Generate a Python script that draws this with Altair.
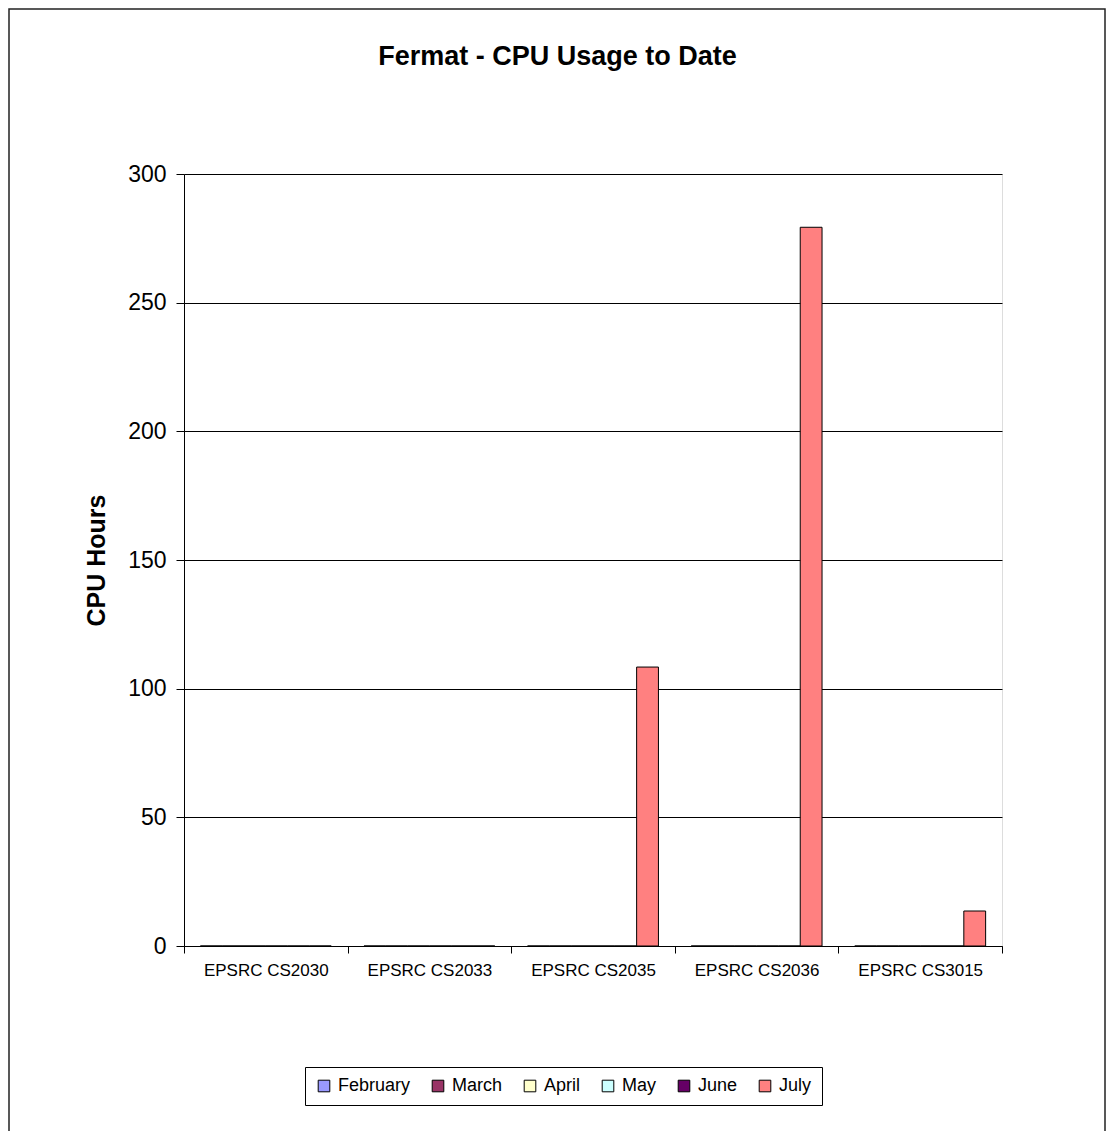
import altair as alt
import pandas as pd

categories = ["EPSRC CS2030", "EPSRC CS2033", "EPSRC CS2035", "EPSRC CS2036", "EPSRC CS3015"]
months = ["February", "March", "April", "May", "June", "July"]
month_colors = ["#9999FF", "#993366", "#FFFFCC", "#CCFFFF", "#660066", "#FF8080"]
values = {
    "February": [0, 0, 0, 0, 0],
    "March": [0, 0, 0, 0, 0],
    "April": [0, 0, 0, 0, 0],
    "May": [0, 0, 0, 0, 0],
    "June": [0, 0, 0, 0, 0],
    "July": [0, 0, 108.4, 279.3, 13.6],
}
y_ticks = [0, 50, 100, 150, 200, 250, 300]
chart_title = "Fermat - CPU Usage to Date"

rows = []
for m in months:
    for c, v in zip(categories, values[m]):
        rows.append({"project": c, "month": m, "hours": v})
df = pd.DataFrame(rows)

W, H = 818, 772
FONT = "Liberation Sans"

bars = alt.Chart(df).mark_bar(stroke="black", strokeWidth=1).encode(
    x=alt.X("project:N", sort=categories,
            scale=alt.Scale(paddingInner=0, paddingOuter=0),
            axis=alt.Axis(title=None, labelAngle=0, labelFontSize=17, labelFont=FONT,
                          labelColor="black", tickBand="extent", tickSize=7,
                          tickColor="black", domainColor="black", labelPadding=9,
                          grid=False)),
    xOffset=alt.XOffset("month:N", sort=months,
                        scale=alt.Scale(paddingInner=0, paddingOuter=0.75)),
    y=alt.Y("hours:Q", scale=alt.Scale(domain=[0, 300], nice=False),
            axis=alt.Axis(title="CPU Hours", values=y_ticks, labelFontSize=23,
                          labelFont=FONT, labelColor="black", tickSize=8,
                          tickColor="black", domainColor="black", labelPadding=10,
                          gridColor="black", gridOpacity=1, titleFont=FONT,
                          titleFontSize=25, titleFontWeight="bold", titleColor="black",
                          titleX=-80, titleY=386, titleAngle=-90,
                          titleBaseline="alphabetic", titleAlign="center")),
    color=alt.Color("month:N", sort=months,
                    scale=alt.Scale(domain=months, range=month_colors),
                    legend=alt.Legend(title=None, orient="none", legendX=121, legendY=893,
                                      direction="horizontal", columns=6,
                                      symbolType="square", symbolSize=135,
                                      symbolStrokeColor="black", symbolStrokeWidth=1,
                                      symbolOpacity=1, labelFontSize=18, labelFont=FONT,
                                      labelColor="black", labelOffset=5,
                                      columnPadding=18, padding=10,
                                      strokeColor="black", fillColor="white")),
)

frame = alt.Chart(pd.DataFrame({"k": [0]})).mark_rect(
    filled=False, stroke="#222222", strokeWidth=1.5
).encode(
    x=alt.value(-175), x2=alt.value(W + 103),
    y=alt.value(-165), y2=alt.value(H + 250),
)

title = alt.Chart(pd.DataFrame({"t": [chart_title]})).mark_text(
    font=FONT, fontSize=27, fontWeight="bold", color="black",
    align="center", baseline="alphabetic"
).encode(
    text="t:N", x=alt.value(373.5), y=alt.value(-109),
)

chart = alt.layer(frame, bars, title).properties(
    width=W, height=H,
    autosize=alt.AutoSizeParams(type="none"),
    padding={"left": 176, "top": 166, "right": 105, "bottom": 185},
).configure_view(stroke="#808080", strokeWidth=1).configure(background="white")

chart.save("out.html", embed_options={"renderer": "svg", "actions": False})
